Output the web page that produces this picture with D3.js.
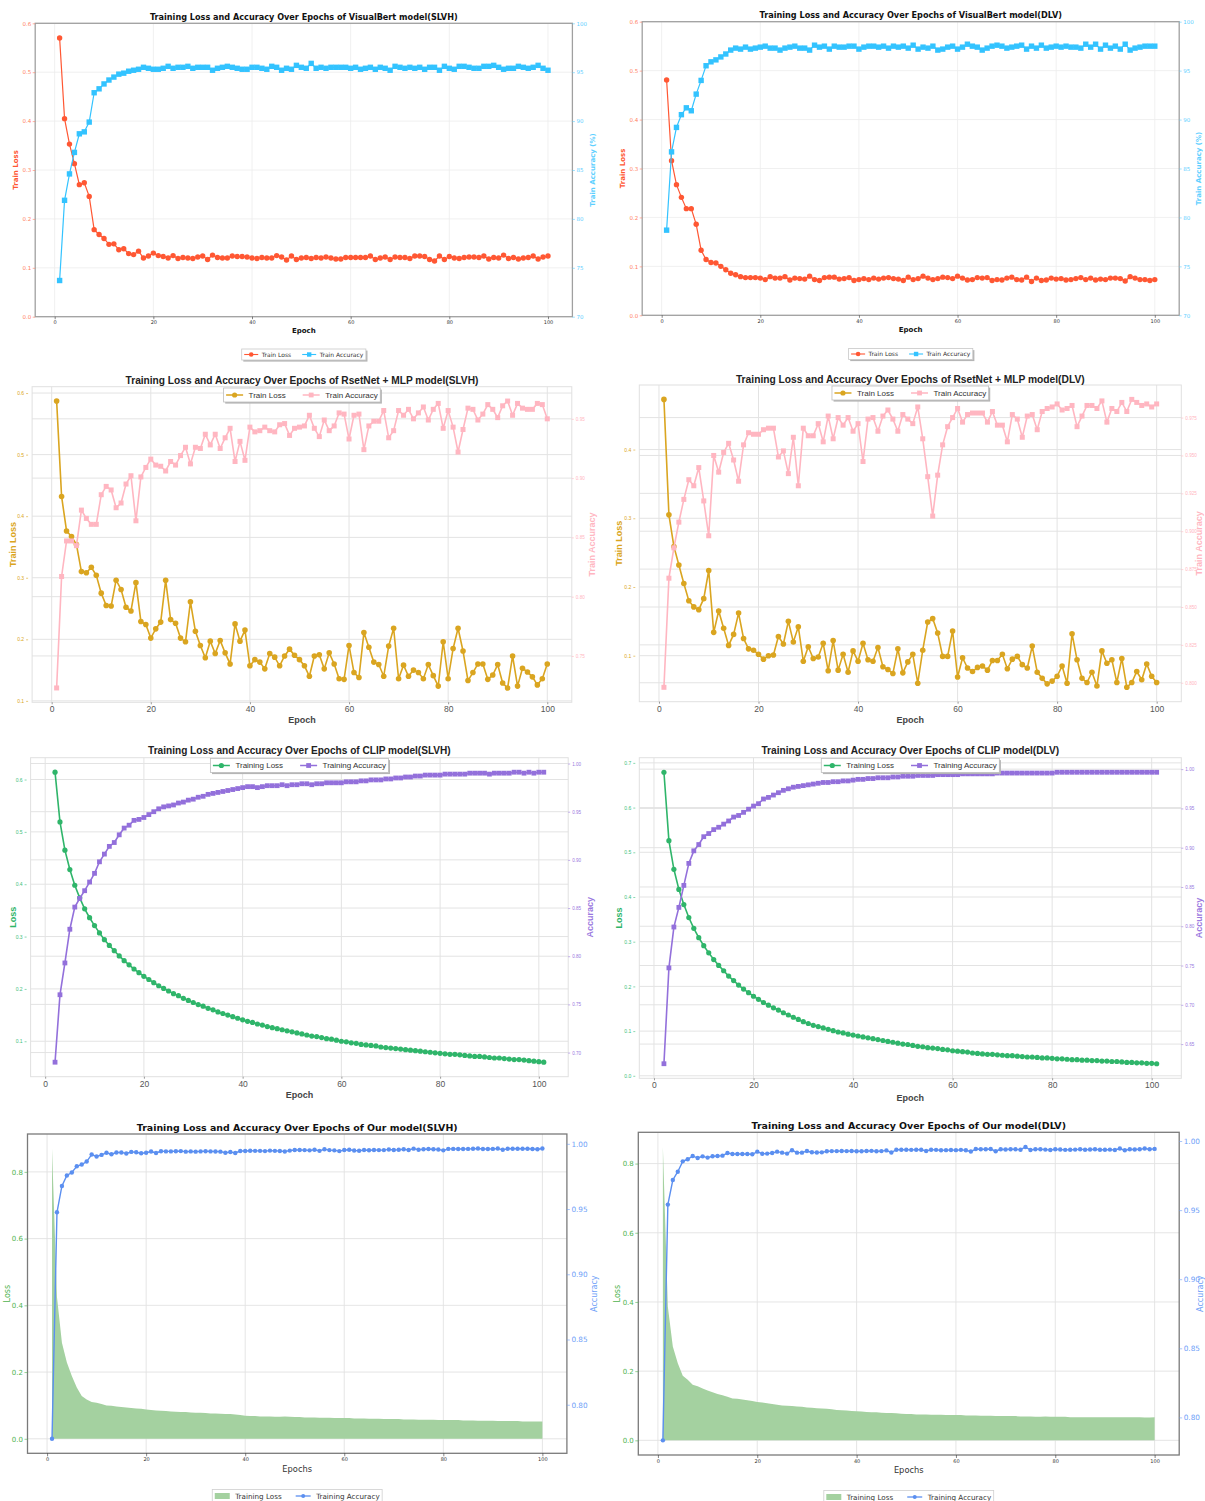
<!DOCTYPE html>
<html>
<head>
<meta charset="utf-8">
<script src="https://cdn.jsdelivr.net/npm/d3@7"></script>
<style>
  body { margin: 0; background: #fff; }
  svg { display: block; }
</style>
</head>
<body>
<svg id="chart" width="1205" height="1501"></svg>
<script>
// ---- epochs / ticks ----
const epochsA = d3.range(1, 101);     // VisualBert, RsetNet, Our model
const epochsClip = d3.range(2, 102);  // CLIP logs start at epoch 2
const epochTicks = [0, 20, 40, 60, 80, 100];

const vbLossTicks = [0, 0.1, 0.2, 0.3, 0.4, 0.5, 0.6];
const vbAccTicks = [70, 75, 80, 85, 90, 95, 100];
const rnSlvhLossTicks = [0.1, 0.2, 0.3, 0.4, 0.5, 0.6];
const rnSlvhAccTicks = [0.75, 0.80, 0.85, 0.90, 0.95];
const rnDlvLossTicks = [0.1, 0.2, 0.3, 0.4];
const rnDlvAccTicks = [0.800, 0.825, 0.850, 0.875, 0.900, 0.925, 0.950, 0.975];
const clipSlvhLossTicks = [0.1, 0.2, 0.3, 0.4, 0.5, 0.6];
const clipSlvhAccTicks = [0.70, 0.75, 0.80, 0.85, 0.90, 0.95, 1.00];
const clipDlvLossTicks = [0, 0.1, 0.2, 0.3, 0.4, 0.5, 0.6, 0.7];
const clipDlvAccTicks = [0.65, 0.70, 0.75, 0.80, 0.85, 0.90, 0.95, 1.00];
const ourLossTicks = [0, 0.2, 0.4, 0.6, 0.8];
const ourAccTicks = [0.80, 0.85, 0.90, 0.95, 1.00];

// ---- VisualBert ----
const vbSlvhLoss = [0.570,0.405,0.353,0.313,0.270,0.274,0.246,0.178,0.168,0.160,
  0.148,0.149,0.137,0.139,0.129,0.127,0.134,0.120,0.124,0.130,
  0.125,0.123,0.120,0.125,0.119,0.121,0.120,0.119,0.122,0.124,
  0.117,0.126,0.121,0.120,0.120,0.124,0.123,0.123,0.122,0.120,
  0.119,0.121,0.120,0.120,0.125,0.122,0.116,0.124,0.117,0.120,
  0.121,0.119,0.121,0.120,0.122,0.120,0.118,0.118,0.121,0.121,
  0.121,0.121,0.121,0.124,0.117,0.120,0.122,0.117,0.122,0.121,
  0.121,0.119,0.124,0.124,0.123,0.117,0.114,0.124,0.117,0.123,
  0.120,0.119,0.121,0.122,0.122,0.121,0.124,0.118,0.121,0.120,
  0.126,0.119,0.121,0.118,0.120,0.121,0.124,0.118,0.122,0.124];
const vbSlvhAcc = [73.7,81.9,84.6,86.8,88.7,88.9,89.9,92.9,93.3,93.8,
  94.2,94.5,94.8,94.9,95.1,95.2,95.3,95.5,95.4,95.3,
  95.3,95.4,95.6,95.4,95.5,95.5,95.6,95.4,95.5,95.5,
  95.5,95.2,95.4,95.5,95.6,95.5,95.4,95.3,95.3,95.5,
  95.5,95.4,95.3,95.6,95.5,95.2,95.4,95.3,95.7,95.5,
  95.4,95.9,95.4,95.5,95.4,95.5,95.5,95.5,95.5,95.4,
  95.5,95.3,95.4,95.5,95.3,95.5,95.4,95.2,95.6,95.5,
  95.4,95.5,95.4,95.5,95.3,95.5,95.5,95.2,95.6,95.4,
  95.3,95.6,95.6,95.5,95.4,95.4,95.6,95.6,95.7,95.5,
  95.3,95.4,95.4,95.6,95.5,95.4,95.5,95.7,95.4,95.2];
const vbDlvLoss = [0.481,0.316,0.267,0.241,0.218,0.218,0.186,0.133,0.114,0.108,
  0.107,0.100,0.093,0.086,0.083,0.079,0.077,0.077,0.077,0.076,
  0.073,0.079,0.076,0.076,0.079,0.072,0.076,0.075,0.074,0.080,
  0.073,0.071,0.077,0.078,0.078,0.074,0.075,0.077,0.071,0.073,
  0.075,0.073,0.076,0.074,0.076,0.077,0.075,0.074,0.071,0.078,
  0.073,0.075,0.080,0.076,0.073,0.075,0.078,0.077,0.075,0.080,
  0.076,0.072,0.073,0.077,0.076,0.077,0.071,0.073,0.072,0.076,
  0.078,0.073,0.072,0.078,0.069,0.076,0.071,0.072,0.076,0.074,
  0.075,0.072,0.073,0.075,0.077,0.073,0.076,0.072,0.074,0.073,
  0.076,0.076,0.075,0.070,0.079,0.076,0.073,0.073,0.071,0.073];
const vbDlvAcc = [78.7,86.7,89.2,90.5,91.2,90.9,92.6,94.0,95.5,95.9,
  96.1,96.4,96.7,97.1,97.3,97.2,97.4,97.2,97.3,97.4,
  97.5,97.3,97.3,97.1,97.3,97.4,97.5,97.3,97.3,97.1,
  97.6,97.4,97.5,97.2,97.5,97.4,97.4,97.5,97.5,97.2,
  97.4,97.5,97.5,97.4,97.5,97.3,97.5,97.4,97.5,97.3,
  97.6,97.2,97.4,97.3,97.5,97.1,97.2,97.4,97.5,97.2,
  97.4,97.7,97.5,97.4,97.1,97.3,97.5,97.6,97.5,97.3,
  97.4,97.5,97.6,97.2,97.5,97.3,97.6,97.3,97.4,97.5,
  97.4,97.5,97.4,97.4,97.3,97.7,97.4,97.7,97.2,97.6,
  97.3,97.5,97.2,97.7,97.1,97.3,97.4,97.5,97.5,97.5];

// ---- RsetNet + MLP ----
const rnSlvhLoss = [0.587,0.432,0.376,0.367,0.354,0.310,0.308,0.317,0.304,0.275,
  0.255,0.254,0.296,0.281,0.252,0.246,0.292,0.229,0.224,0.202,
  0.217,0.228,0.296,0.232,0.226,0.202,0.196,0.261,0.213,0.190,
  0.170,0.197,0.177,0.198,0.178,0.160,0.225,0.197,0.215,0.157,
  0.167,0.163,0.152,0.177,0.171,0.157,0.173,0.184,0.174,0.167,
  0.157,0.140,0.173,0.175,0.152,0.178,0.160,0.136,0.135,0.190,
  0.146,0.138,0.211,0.187,0.163,0.159,0.140,0.189,0.218,0.136,
  0.158,0.140,0.150,0.146,0.136,0.159,0.141,0.124,0.196,0.136,
  0.185,0.218,0.181,0.133,0.146,0.160,0.160,0.135,0.142,0.159,
  0.129,0.121,0.173,0.124,0.153,0.147,0.139,0.126,0.136,0.160];
const rnSlvhAcc = [0.723,0.817,0.847,0.847,0.843,0.873,0.866,0.861,0.861,0.886,
  0.893,0.890,0.875,0.879,0.895,0.902,0.864,0.901,0.909,0.916,
  0.911,0.910,0.906,0.914,0.911,0.919,0.926,0.912,0.926,0.925,
  0.937,0.928,0.937,0.925,0.934,0.942,0.914,0.931,0.915,0.943,
  0.939,0.940,0.943,0.940,0.939,0.945,0.946,0.936,0.942,0.943,
  0.944,0.953,0.942,0.935,0.949,0.940,0.944,0.955,0.954,0.933,
  0.953,0.954,0.924,0.944,0.948,0.948,0.957,0.934,0.940,0.957,
  0.953,0.958,0.950,0.955,0.960,0.949,0.958,0.963,0.942,0.957,
  0.943,0.922,0.941,0.959,0.958,0.949,0.954,0.962,0.958,0.951,
  0.961,0.965,0.953,0.963,0.959,0.958,0.958,0.963,0.962,0.950];
const rnDlvLoss = [0.473,0.305,0.259,0.232,0.205,0.180,0.171,0.167,0.183,0.224,
  0.134,0.165,0.140,0.115,0.131,0.162,0.125,0.110,0.108,0.102,
  0.095,0.100,0.101,0.128,0.117,0.150,0.120,0.142,0.092,0.113,
  0.096,0.098,0.118,0.078,0.122,0.079,0.102,0.076,0.107,0.092,
  0.118,0.094,0.092,0.112,0.084,0.080,0.074,0.110,0.075,0.091,
  0.102,0.060,0.108,0.149,0.154,0.133,0.099,0.099,0.136,0.069,
  0.097,0.082,0.077,0.083,0.085,0.079,0.093,0.093,0.102,0.081,
  0.095,0.099,0.087,0.082,0.114,0.076,0.067,0.059,0.063,0.070,
  0.085,0.060,0.132,0.094,0.067,0.061,0.076,0.056,0.107,0.089,
  0.094,0.061,0.096,0.054,0.061,0.077,0.065,0.088,0.070,0.061];
const rnDlvAcc = [0.797,0.869,0.889,0.906,0.921,0.934,0.930,0.942,0.920,0.897,
  0.950,0.939,0.952,0.958,0.947,0.933,0.957,0.965,0.964,0.964,
  0.967,0.968,0.968,0.949,0.953,0.938,0.962,0.930,0.968,0.963,
  0.963,0.971,0.959,0.976,0.961,0.975,0.970,0.975,0.966,0.971,
  0.946,0.974,0.975,0.966,0.976,0.980,0.974,0.966,0.977,0.974,
  0.971,0.982,0.961,0.936,0.910,0.937,0.957,0.969,0.975,0.981,
  0.972,0.977,0.978,0.978,0.978,0.972,0.979,0.970,0.970,0.959,
  0.977,0.974,0.962,0.976,0.977,0.967,0.979,0.981,0.982,0.984,
  0.980,0.981,0.983,0.969,0.976,0.983,0.983,0.981,0.986,0.972,
  0.981,0.979,0.985,0.979,0.987,0.985,0.983,0.984,0.982,0.984];

// ---- CLIP (epochs 2..101) ----
const clipSlvhLoss = [0.614,0.519,0.465,0.428,0.398,0.374,0.353,0.336,0.321,0.307,
  0.294,0.283,0.273,0.263,0.254,0.246,0.238,0.231,0.224,0.218,
  0.212,0.206,0.201,0.196,0.191,0.187,0.182,0.178,0.174,0.170,
  0.167,0.163,0.160,0.156,0.153,0.150,0.147,0.144,0.141,0.138,
  0.136,0.133,0.131,0.128,0.126,0.124,0.122,0.120,0.118,0.116,
  0.114,0.112,0.110,0.109,0.107,0.105,0.104,0.102,0.100,0.099,
  0.097,0.096,0.094,0.093,0.092,0.091,0.089,0.088,0.087,0.086,
  0.085,0.084,0.083,0.082,0.081,0.080,0.079,0.078,0.077,0.076,
  0.075,0.075,0.074,0.073,0.072,0.071,0.071,0.070,0.069,0.068,
  0.068,0.067,0.066,0.065,0.065,0.064,0.063,0.062,0.061,0.060];
const clipSlvhAcc = [0.690,0.760,0.793,0.828,0.851,0.860,0.868,0.877,0.886,0.898,
  0.906,0.914,0.918,0.926,0.933,0.936,0.941,0.942,0.944,0.947,
  0.950,0.953,0.955,0.956,0.957,0.959,0.960,0.962,0.963,0.965,
  0.966,0.968,0.969,0.970,0.971,0.972,0.973,0.974,0.975,0.976,
  0.976,0.975,0.976,0.977,0.977,0.977,0.978,0.977,0.978,0.978,
  0.979,0.979,0.978,0.979,0.979,0.980,0.980,0.980,0.980,0.981,
  0.981,0.981,0.982,0.982,0.983,0.983,0.983,0.984,0.984,0.985,
  0.985,0.986,0.986,0.987,0.987,0.988,0.988,0.988,0.988,0.989,
  0.989,0.989,0.989,0.989,0.990,0.990,0.990,0.990,0.989,0.990,
  0.990,0.990,0.990,0.991,0.991,0.990,0.991,0.990,0.991,0.991];
const clipDlvLoss = [0.679,0.526,0.462,0.417,0.383,0.354,0.330,0.309,0.291,0.275,
  0.260,0.247,0.235,0.223,0.213,0.203,0.194,0.186,0.178,0.171,
  0.164,0.158,0.152,0.147,0.141,0.136,0.131,0.126,0.121,0.117,
  0.113,0.110,0.107,0.104,0.101,0.098,0.096,0.093,0.091,0.089,
  0.087,0.085,0.083,0.081,0.079,0.077,0.075,0.073,0.071,0.070,
  0.068,0.066,0.065,0.063,0.062,0.061,0.059,0.058,0.056,0.055,
  0.054,0.053,0.051,0.050,0.049,0.048,0.048,0.047,0.046,0.045,
  0.045,0.044,0.043,0.042,0.042,0.041,0.040,0.040,0.039,0.038,
  0.038,0.037,0.036,0.036,0.035,0.035,0.034,0.034,0.033,0.033,
  0.032,0.032,0.031,0.030,0.030,0.029,0.029,0.028,0.028,0.027];
const clipDlvAcc = [0.625,0.747,0.799,0.824,0.852,0.880,0.896,0.904,0.914,0.918,
  0.923,0.926,0.930,0.934,0.939,0.941,0.945,0.949,0.953,0.956,
  0.962,0.964,0.967,0.970,0.973,0.975,0.977,0.978,0.979,0.980,
  0.981,0.982,0.983,0.983,0.984,0.984,0.985,0.985,0.986,0.987,
  0.987,0.988,0.988,0.989,0.989,0.989,0.990,0.990,0.991,0.991,
  0.991,0.992,0.992,0.992,0.992,0.993,0.993,0.993,0.993,0.993,
  0.994,0.994,0.994,0.994,0.994,0.994,0.994,0.995,0.995,0.995,
  0.995,0.995,0.995,0.995,0.995,0.995,0.995,0.995,0.995,0.996,
  0.996,0.996,0.996,0.996,0.996,0.996,0.996,0.996,0.996,0.996,
  0.996,0.996,0.996,0.996,0.996,0.996,0.996,0.996,0.996,0.996];

// ---- Our model ----
const ourSlvhLoss = [0.870,0.425,0.288,0.229,0.188,0.154,0.128,0.118,0.110,0.108,
  0.104,0.100,0.099,0.097,0.095,0.094,0.092,0.091,0.090,0.088,
  0.086,0.085,0.084,0.083,0.082,0.081,0.080,0.080,0.079,0.078,
  0.078,0.077,0.076,0.076,0.075,0.074,0.074,0.073,0.071,0.069,
  0.068,0.068,0.067,0.067,0.067,0.066,0.066,0.067,0.066,0.065,
  0.065,0.064,0.064,0.064,0.063,0.063,0.063,0.062,0.062,0.062,
  0.062,0.061,0.061,0.061,0.060,0.060,0.060,0.059,0.059,0.059,
  0.059,0.058,0.058,0.058,0.057,0.057,0.057,0.057,0.056,0.056,
  0.056,0.056,0.056,0.055,0.055,0.055,0.054,0.054,0.054,0.054,
  0.053,0.053,0.053,0.053,0.053,0.052,0.052,0.052,0.052,0.052];
const ourSlvhAcc = [0.7739,0.9475,0.9677,0.9757,0.9780,0.9828,0.9841,0.9864,0.9918,0.9903,
  0.9915,0.9931,0.9920,0.9933,0.9934,0.9926,0.9938,0.9935,0.9928,0.9932,
  0.9941,0.9930,0.9943,0.9942,0.9942,0.9943,0.9944,0.9940,0.9942,0.9940,
  0.9942,0.9943,0.9942,0.9941,0.9940,0.9932,0.9937,0.9930,0.9945,0.9945,
  0.9947,0.9946,0.9946,0.9944,0.9948,0.9946,0.9945,0.9941,0.9948,0.9953,
  0.9953,0.9952,0.9950,0.9954,0.9946,0.9958,0.9952,0.9950,0.9944,0.9953,
  0.9955,0.9949,0.9947,0.9953,0.9951,0.9953,0.9952,0.9952,0.9957,0.9953,
  0.9954,0.9958,0.9953,0.9963,0.9955,0.9958,0.9960,0.9958,0.9956,0.9950,
  0.9961,0.9961,0.9960,0.9960,0.9961,0.9962,0.9964,0.9960,0.9960,0.9961,
  0.9964,0.9954,0.9962,0.9962,0.9962,0.9962,0.9962,0.9960,0.9958,0.9964];
const ourDlvLoss = [0.848,0.386,0.271,0.223,0.187,0.175,0.161,0.156,0.150,0.144,
  0.139,0.134,0.130,0.126,0.121,0.120,0.118,0.116,0.114,0.111,
  0.109,0.107,0.105,0.103,0.101,0.100,0.099,0.098,0.097,0.095,
  0.094,0.093,0.092,0.091,0.090,0.088,0.087,0.086,0.085,0.084,
  0.083,0.082,0.081,0.081,0.080,0.079,0.079,0.078,0.077,0.076,
  0.076,0.075,0.075,0.075,0.074,0.074,0.074,0.073,0.073,0.073,
  0.073,0.072,0.072,0.072,0.071,0.071,0.071,0.070,0.070,0.070,
  0.070,0.070,0.069,0.069,0.069,0.068,0.068,0.069,0.068,0.068,
  0.068,0.068,0.067,0.067,0.067,0.067,0.067,0.067,0.067,0.067,
  0.067,0.067,0.067,0.067,0.067,0.067,0.067,0.066,0.066,0.067];
const ourDlvAcc = [0.7834,0.9540,0.9718,0.9778,0.9853,0.9868,0.9892,0.9877,0.9889,0.9880,
  0.9890,0.9892,0.9894,0.9913,0.9906,0.9906,0.9906,0.9906,0.9904,0.9923,
  0.9908,0.9909,0.9913,0.9923,0.9916,0.9909,0.9933,0.9916,0.9916,0.9928,
  0.9919,0.9917,0.9918,0.9926,0.9927,0.9927,0.9928,0.9927,0.9928,0.9926,
  0.9926,0.9928,0.9929,0.9926,0.9927,0.9932,0.9917,0.9937,0.9937,0.9937,
  0.9936,0.9937,0.9937,0.9928,0.9937,0.9936,0.9933,0.9934,0.9935,0.9934,
  0.9936,0.9933,0.9924,0.9942,0.9941,0.9940,0.9942,0.9926,0.9940,0.9939,
  0.9940,0.9940,0.9937,0.9957,0.9935,0.9940,0.9940,0.9938,0.9935,0.9940,
  0.9939,0.9936,0.9937,0.9938,0.9941,0.9937,0.9939,0.9940,0.9937,0.9937,
  0.9938,0.9935,0.9946,0.9933,0.9940,0.9939,0.9940,0.9946,0.9941,0.9943];

// ---- styles (matplotlib default / seaborn-ish / default with area) ----
const styles = {
  vb: {
    font: "DejaVu Sans", titleColor: "#111", grid: "#ececec", gridW: 0.8, rightGrid: false,
    frame: "#a0a0a0", frameW: 1.3, lineW: 1.2, r: 2.7, sq: 5.4,
    xTick: {len: 2.5, pad: 1.5, size: 5, color: "#333"},
    yTick: {len: 2.5, pad: 1.5, sizeL: 5.5, sizeR: 5.5, offL: 0, offR: 0},
    xLabel: {size: 7, weight: "bold", color: "#111"},
    yLabel: {size: 7, weight: "bold"},
    legend: {size: 6, h: 11, handle: 14, gap: 3.5, spacing: 11, pad: 2.5, r: 2.3, sq: 4.4,
      lineW: 1.1, color: "#333", stroke: "#c8c8c8", shadow: true}
  },
  rn: {
    font: "Liberation Sans", titleColor: "#222", grid: "#e3e3e3", gridW: 1, rightGrid: true,
    frame: "#e0e0e0", frameW: 1, lineW: 1.6, r: 2.8, sq: 5,
    xTick: {len: 2, pad: 1.8, size: 8.5, color: "#555"},
    yTick: {len: 2, pad: 2, sizeL: 5, sizeR: 4.6, offL: 4, offR: 0},
    xLabel: {size: 9, weight: "bold", color: "#444"},
    yLabel: {size: 9, weight: "bold"},
    legend: {size: 8, h: 14, handle: 17, gap: 5.5, spacing: 17, pad: 2.5, r: 2.6, sq: 4.8,
      lineW: 1.5, color: "#333", stroke: "#bdbdbd", shadow: true}
  },
  our: {
    font: "DejaVu Sans", titleColor: "#111", grid: "#e2e2e2", gridW: 0.9, rightGrid: false,
    frame: "#7a7a7a", frameW: 1.3, lineW: 1.4, r: 2.2, sq: 4,
    xTick: {len: 3, pad: 1.2, size: 5, color: "#333"},
    yTick: {len: 3, pad: 1.5, sizeL: 7, sizeR: 7.3, offL: 0, offR: 0},
    xLabel: {size: 8.3, weight: "normal", color: "#333"},
    yLabel: {size: 8, weight: "normal"},
    legend: {size: 7.2, h: 13, handle: 15, gap: 5.5, spacing: 14, pad: 2.5, r: 2, sq: 4,
      lineW: 1.3, color: "#333", stroke: "#cfcfcf", shadow: false, patchH: 6}
  }
};

const panels = [
  {style: "vb", title: "Training Loss and Accuracy Over Epochs of VisualBert model(SLVH)", titleY: 17, titleW: 308,
   frame: {l: 35.2, r: 572.4, t: 23.3, b: 316.7}, epochs: epochsA, loss: vbSlvhLoss, acc: vbSlvhAcc,
   lossDomain: [0, 0.6], accDomain: [70, 100], lossTicks: vbLossTicks, accTicks: vbAccTicks, lossFmt: ".1f", accFmt: "d",
   lossColor: "#ff5733", accColor: "#33c3ff", lossTickColor: "#ff7f63", accTickColor: "#5fd0ff", accMark: "square",
   xLabel: "Epoch", xLabelY: 331, lossLabel: "Train Loss", lossLabelX: 16, accLabel: "Train Accuracy (%)", accLabelX: 592.4,
   lossName: "Train Loss", accName: "Train Accuracy", legendY: 354.5},
  {style: "vb", title: "Training Loss and Accuracy Over Epochs of VisualBert model(DLV)", titleY: 15.3, titleW: 303,
   frame: {l: 642.2, r: 1179.2, t: 21.7, b: 315.3}, epochs: epochsA, loss: vbDlvLoss, acc: vbDlvAcc,
   lossDomain: [0, 0.6], accDomain: [70, 100], lossTicks: vbLossTicks, accTicks: vbAccTicks, lossFmt: ".1f", accFmt: "d",
   lossColor: "#ff5733", accColor: "#33c3ff", lossTickColor: "#ff7f63", accTickColor: "#5fd0ff", accMark: "square",
   xLabel: "Epoch", xLabelY: 330, lossLabel: "Train Loss", lossLabelX: 623, accLabel: "Train Accuracy (%)", accLabelX: 1198.8,
   lossName: "Train Loss", accName: "Train Accuracy", legendY: 354},
  {style: "rn", title: "Training Loss and Accuracy Over Epochs of RsetNet + MLP model(SLVH)", titleY: 380, titleW: 353,
   frame: {l: 32.1, r: 571.8, t: 386.7, b: 702.3}, epochs: epochsA, loss: rnSlvhLoss, acc: rnSlvhAcc,
   lossTicks: rnSlvhLossTicks, accTicks: rnSlvhAccTicks, lossFmt: ".1f", accFmt: ".2f",
   lossColor: "#daa520", accColor: "#ffb6c1", lossTickColor: "#daa520", accTickColor: "#ffb6c1", accMark: "square",
   xLabel: "Epoch", xLabelY: 720, lossLabel: "Train Loss", lossLabelX: 12.6, accLabel: "Train Accuracy", accLabelX: 592,
   lossName: "Train Loss", accName: "Train Accuracy", legendY: 395},
  {style: "rn", title: "Training Loss and Accuracy Over Epochs of RsetNet + MLP model(DLV)", titleY: 379, titleW: 349,
   frame: {l: 639.3, r: 1181.3, t: 385, b: 701.7}, epochs: epochsA, loss: rnDlvLoss, acc: rnDlvAcc,
   lossTicks: rnDlvLossTicks, accTicks: rnDlvAccTicks, lossFmt: ".1f", accFmt: ".3f",
   lossColor: "#daa520", accColor: "#ffb6c1", lossTickColor: "#daa520", accTickColor: "#ffb6c1", accMark: "square",
   xLabel: "Epoch", xLabelY: 720, lossLabel: "Train Loss", lossLabelX: 619.3, accLabel: "Train Accuracy", accLabelX: 1199.3,
   lossName: "Train Loss", accName: "Train Accuracy", legendY: 393},
  {style: "rn", title: "Training Loss and Accuracy Over Epochs of CLIP model(SLVH)", titleY: 750.3, titleW: 303,
   frame: {l: 30.6, r: 568.2, t: 757.7, b: 1076.7}, epochs: epochsClip, loss: clipSlvhLoss, acc: clipSlvhAcc,
   lossTicks: clipSlvhLossTicks, accTicks: clipSlvhAccTicks, lossFmt: ".1f", accFmt: ".2f",
   lossColor: "#2fb56a", accColor: "#9370db", lossTickColor: "#3cc07a", accTickColor: "#9a78e0", accMark: "square",
   xLabel: "Epoch", xLabelY: 1095, lossLabel: "Loss", lossLabelX: 12.6, accLabel: "Accuracy", accLabelX: 590.1,
   lossName: "Training Loss", accName: "Training Accuracy", legendY: 765.5, r: 2.6, sq: 4.8},
  {style: "rn", title: "Training Loss and Accuracy Over Epochs of CLIP model(DLV)", titleY: 750.3, titleW: 298,
   frame: {l: 639.3, r: 1181.3, t: 757.7, b: 1078.3}, epochs: epochsClip, loss: clipDlvLoss, acc: clipDlvAcc,
   lossTicks: clipDlvLossTicks, accTicks: clipDlvAccTicks, lossFmt: ".1f", accFmt: ".2f",
   lossColor: "#2fb56a", accColor: "#9370db", lossTickColor: "#3cc07a", accTickColor: "#9a78e0", accMark: "square",
   xLabel: "Epoch", xLabelY: 1097.7, lossLabel: "Loss", lossLabelX: 619.3, accLabel: "Accuracy", accLabelX: 1199.3,
   lossName: "Training Loss", accName: "Training Accuracy", legendY: 765.5, r: 2.6, sq: 4.8},
  {style: "our", title: "Training Loss and Accuracy Over Epochs of Our model(SLVH)", titleY: 1127.7, titleW: 321,
   frame: {l: 27.5, r: 566.9, t: 1134, b: 1453.3}, epochs: epochsA, loss: ourSlvhLoss, acc: ourSlvhAcc, lossArea: true,
   lossTicks: ourLossTicks, accTicks: ourAccTicks, lossFmt: ".1f", accFmt: ".2f",
   lossColor: "#a4d1a0", accColor: "#5b8ff0", lossTickColor: "#4fb34f", accTickColor: "#6f9ff8", accMark: "circle",
   xLabel: "Epochs", xLabelY: 1469, lossLabel: "Loss", lossLabelX: 7, accLabel: "Accuracy", accLabelX: 594,
   lossLabelColor: "#4fb34f", lossName: "Training Loss", accName: "Training Accuracy", legendY: 1496},
  {style: "our", title: "Training Loss and Accuracy Over Epochs of Our model(DLV)", titleY: 1125.7, titleW: 315,
   frame: {l: 638.3, r: 1179.2, t: 1132.3, b: 1455}, epochs: epochsA, loss: ourDlvLoss, acc: ourDlvAcc, lossArea: true,
   lossTicks: ourLossTicks, accTicks: ourAccTicks, lossFmt: ".1f", accFmt: ".2f",
   lossColor: "#a4d1a0", accColor: "#5b8ff0", lossTickColor: "#4fb34f", accTickColor: "#6f9ff8", accMark: "circle",
   xLabel: "Epochs", xLabelY: 1470, lossLabel: "Loss", lossLabelX: 617.4, accLabel: "Accuracy", accLabelX: 1200.6,
   lossLabelColor: "#4fb34f", lossName: "Training Loss", accName: "Training Accuracy", legendY: 1497}
];

const svg = d3.select("#chart");

// matplotlib-like 5% auto margins
function padDomain(vals, includeZero) {
  let lo = d3.min(vals), hi = d3.max(vals);
  if (includeZero) lo = Math.min(lo, 0);
  const m = (hi - lo) * 0.05;
  return [lo - m, hi + m];
}

function styleAxis(sel, color, size) {
  sel.attr("font-family", null);
  sel.select(".domain").remove();
  sel.selectAll(".tick line").attr("stroke", color).attr("stroke-width", 0.6);
  sel.selectAll(".tick text").attr("fill", color).attr("font-size", size);
}

function drawMarks(g, pts, x, y, mark, color, r, s) {
  const mg = g.append("g").attr("fill", color);
  if (mark === "circle") {
    mg.selectAll("circle").data(pts).join("circle")
      .attr("cx", d => x(d[0])).attr("cy", d => y(d[1])).attr("r", r);
  } else {
    mg.selectAll("rect").data(pts).join("rect")
      .attr("x", d => x(d[0]) - s / 2).attr("y", d => y(d[1]) - s / 2)
      .attr("width", s).attr("height", s);
  }
}

function drawLegend(g, p, st, cx) {
  const L = st.legend;
  const lg = g.append("g");
  const items = [
    {label: p.lossName, color: p.lossColor, mark: p.lossArea ? "patch" : "circle"},
    {label: p.accName, color: p.accColor, mark: p.accMark}
  ];
  let cur = L.pad;
  const placed = items.map((it, i) => {
    const hx = cur;
    cur += L.handle + L.gap;
    const t = lg.append("text").attr("font-size", L.size).attr("fill", L.color)
      .attr("dy", "0.35em").text(it.label);
    const tx = cur;
    cur += t.node().getComputedTextLength() + (i < items.length - 1 ? L.spacing : L.pad);
    return {it, hx, tx, t};
  });
  const w = cur, x0 = cx - w / 2, y0 = p.legendY - L.h / 2, ym = p.legendY;
  lg.insert("rect", ":first-child").attr("x", x0).attr("y", y0).attr("width", w).attr("height", L.h)
    .attr("fill", "#fff").attr("stroke", L.stroke).attr("stroke-width", 0.8);
  if (L.shadow) {
    lg.insert("rect", ":first-child").attr("x", x0 + 1.6).attr("y", y0 + 1.6).attr("width", w).attr("height", L.h)
      .attr("fill", "#b5b5b5");
  }
  placed.forEach(pl => {
    pl.t.attr("x", x0 + pl.tx).attr("y", ym);
    const hx = x0 + pl.hx;
    if (pl.it.mark === "patch") {
      lg.append("rect").attr("x", hx).attr("y", ym - L.patchH / 2).attr("width", L.handle)
        .attr("height", L.patchH).attr("fill", pl.it.color);
    } else {
      lg.append("line").attr("x1", hx).attr("x2", hx + L.handle).attr("y1", ym).attr("y2", ym)
        .attr("stroke", pl.it.color).attr("stroke-width", L.lineW);
      const mx = hx + L.handle / 2;
      if (pl.it.mark === "circle") {
        lg.append("circle").attr("cx", mx).attr("cy", ym).attr("r", L.r).attr("fill", pl.it.color);
      } else {
        lg.append("rect").attr("x", mx - L.sq / 2).attr("y", ym - L.sq / 2)
          .attr("width", L.sq).attr("height", L.sq).attr("fill", pl.it.color);
      }
    }
  });
}

function drawPanel(p) {
  const st = styles[p.style];
  const f = p.frame;
  const cx = (f.l + f.r) / 2, cy = (f.t + f.b) / 2;
  const g = svg.append("g").attr("font-family", st.font);

  const x = d3.scaleLinear().domain(padDomain(p.epochs, false)).range([f.l, f.r]);
  const yL = d3.scaleLinear().domain(p.lossDomain || padDomain(p.loss, p.lossArea)).range([f.b, f.t]);
  const yR = d3.scaleLinear().domain(p.accDomain || padDomain(p.acc, false)).range([f.b, f.t]);
  const lossPts = p.epochs.map((e, i) => [e, p.loss[i]]);
  const accPts = p.epochs.map((e, i) => [e, p.acc[i]]);

  // grid
  const grid = g.append("g").attr("stroke", st.grid).attr("stroke-width", st.gridW);
  grid.selectAll("line.gx").data(epochTicks).join("line").attr("class", "gx")
    .attr("x1", d => x(d)).attr("x2", d => x(d)).attr("y1", f.t).attr("y2", f.b);
  grid.selectAll("line.gl").data(p.lossTicks).join("line").attr("class", "gl")
    .attr("x1", f.l).attr("x2", f.r).attr("y1", d => yL(d)).attr("y2", d => yL(d));
  if (st.rightGrid) {
    grid.selectAll("line.gr").data(p.accTicks).join("line").attr("class", "gr")
      .attr("x1", f.l).attr("x2", f.r).attr("y1", d => yR(d)).attr("y2", d => yR(d));
  }

  const r = p.r || st.r, sq = p.sq || st.sq;

  // loss series
  if (p.lossArea) {
    g.append("path").datum(lossPts).attr("fill", p.lossColor)
      .attr("d", d3.area().x(d => x(d[0])).y0(yL(0)).y1(d => yL(d[1])));
  } else {
    g.append("path").datum(lossPts).attr("fill", "none").attr("stroke", p.lossColor)
      .attr("stroke-width", st.lineW).attr("d", d3.line().x(d => x(d[0])).y(d => yL(d[1])));
    drawMarks(g, lossPts, x, yL, "circle", p.lossColor, r, sq);
  }

  // accuracy series (twin axis, drawn on top)
  g.append("path").datum(accPts).attr("fill", "none").attr("stroke", p.accColor)
    .attr("stroke-width", st.lineW).attr("d", d3.line().x(d => x(d[0])).y(d => yR(d[1])));
  drawMarks(g, accPts, x, yR, p.accMark, p.accColor, r, sq);

  // frame
  g.append("rect").attr("x", f.l).attr("y", f.t).attr("width", f.r - f.l).attr("height", f.b - f.t)
    .attr("fill", "none").attr("stroke", st.frame).attr("stroke-width", st.frameW);

  // axes
  const axB = g.append("g").attr("transform", `translate(0,${f.b})`)
    .call(d3.axisBottom(x).tickValues(epochTicks).tickFormat(d3.format("d"))
      .tickSize(st.xTick.len).tickPadding(st.xTick.pad));
  styleAxis(axB, st.xTick.color, st.xTick.size);

  const axL = g.append("g").attr("transform", `translate(${f.l - st.yTick.offL},0)`)
    .call(d3.axisLeft(yL).tickValues(p.lossTicks).tickFormat(d3.format(p.lossFmt))
      .tickSize(st.yTick.len).tickPadding(st.yTick.pad));
  styleAxis(axL, p.lossTickColor, st.yTick.sizeL);

  const axR = g.append("g").attr("transform", `translate(${f.r + st.yTick.offR},0)`)
    .call(d3.axisRight(yR).tickValues(p.accTicks).tickFormat(d3.format(p.accFmt))
      .tickSize(st.yTick.len).tickPadding(st.yTick.pad));
  styleAxis(axR, p.accTickColor, st.yTick.sizeR);

  // title, fitted to the measured width
  const title = g.append("text").attr("x", cx).attr("y", p.titleY).attr("dy", "0.35em")
    .attr("text-anchor", "middle").attr("font-weight", "bold").attr("fill", st.titleColor)
    .attr("font-size", 10).text(p.title);
  title.attr("font-size", 10 * p.titleW / title.node().getComputedTextLength());

  // axis labels
  g.append("text").attr("x", cx).attr("y", p.xLabelY).attr("dy", "0.35em").attr("text-anchor", "middle")
    .attr("font-size", st.xLabel.size).attr("font-weight", st.xLabel.weight).attr("fill", st.xLabel.color)
    .text(p.xLabel);
  g.append("text").attr("transform", `translate(${p.lossLabelX},${cy}) rotate(-90)`).attr("dy", "0.35em")
    .attr("text-anchor", "middle").attr("font-size", st.yLabel.size).attr("font-weight", st.yLabel.weight)
    .attr("fill", p.lossLabelColor || p.lossColor).text(p.lossLabel);
  g.append("text").attr("transform", `translate(${p.accLabelX},${cy}) rotate(-90)`).attr("dy", "0.35em")
    .attr("text-anchor", "middle").attr("font-size", st.yLabel.size).attr("font-weight", st.yLabel.weight)
    .attr("fill", p.accTickColor).text(p.accLabel);

  drawLegend(g, p, st, cx);
}

panels.forEach(drawPanel);
</script>
</body>
</html>
